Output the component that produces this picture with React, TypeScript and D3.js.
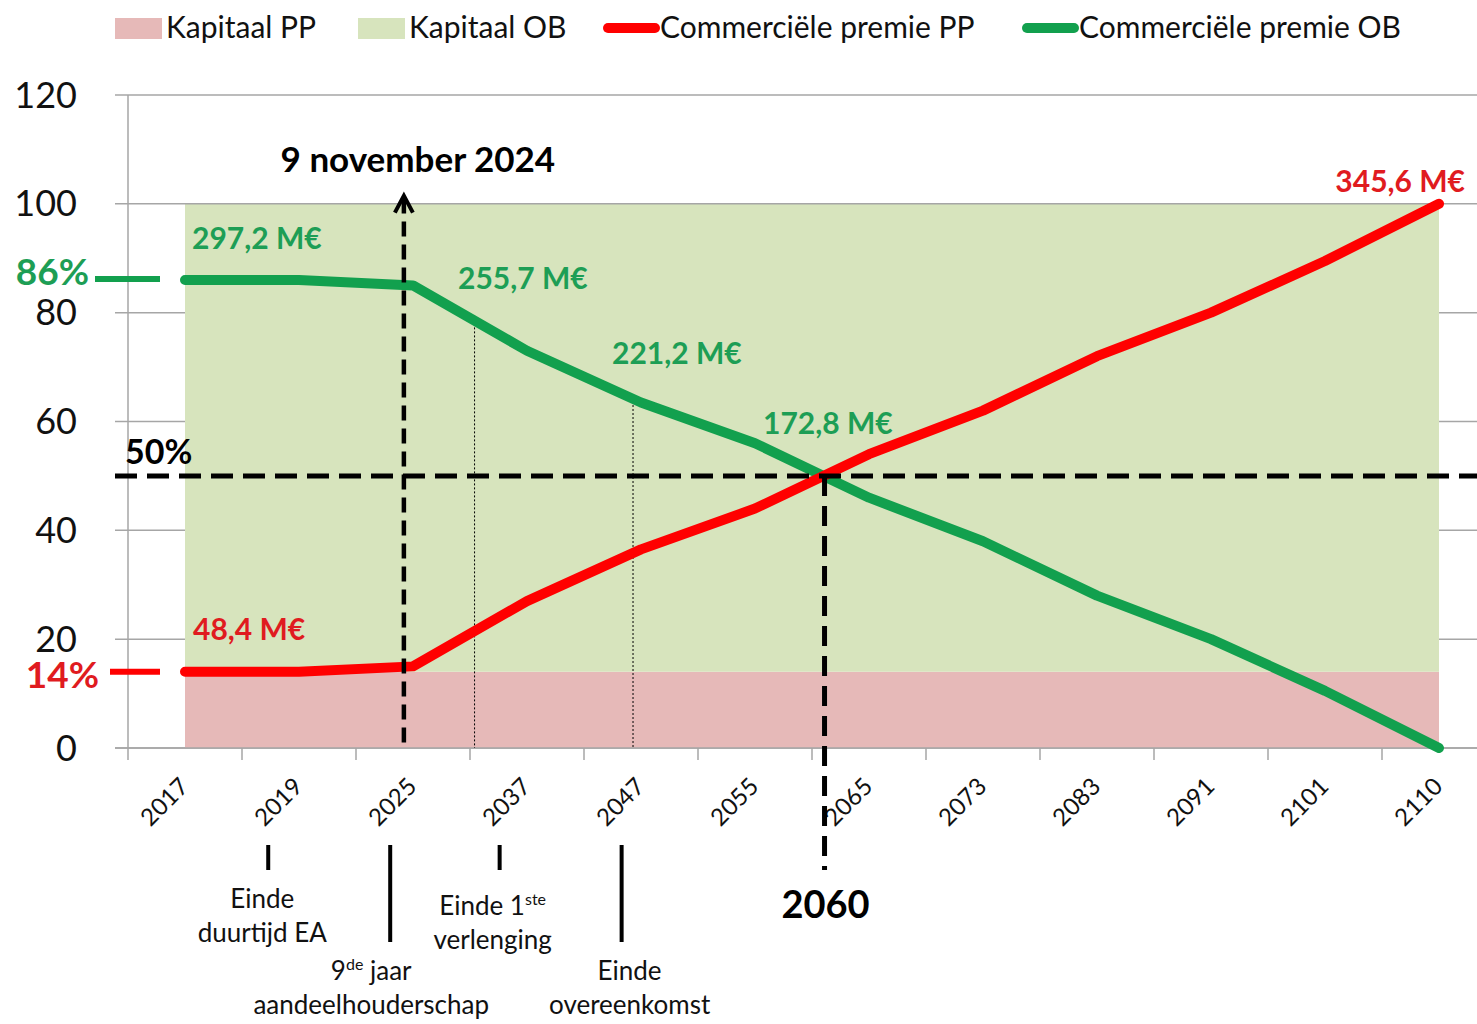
import React from "react";
import * as d3 from "d3";

// categories on the x axis
const years = ["2017", "2019", "2025", "2037", "2047", "2055", "2065", "2073", "2083", "2091", "2101", "2110"];

// stacked capital shares (%)
const kapitaalPP = [14, 14, 14, 14, 14, 14, 14, 14, 14, 14, 14, 14];
const kapitaalOB = [86, 86, 86, 86, 86, 86, 86, 86, 86, 86, 86, 86];

// commercial premium shares (%)
const premiePP = [14, 14, 15, 27, 36.5, 44, 54, 62, 72, 80, 89.5, 100];
const premieOB = [86, 86, 85, 73, 63.5, 56, 46, 38, 28, 20, 10.5, 0];

const yTicks = [0, 20, 40, 60, 80, 100, 120];

// value labels: [category index, text]
const obLabels: [number, string][] = [
  [0, "297,2 M€"],
  [3, "255,7 M€"],
  [4, "221,2 M€"],
  [5, "172,8 M€"],
];
const ppLabels: [number, string][] = [
  [0, "48,4 M€"],
  [11, "345,6 M€"],
];

// milestone markers below the axis (fractional category position)
const milestones = [
  { pos: 0.73, long: false, lines: ["Einde", "duurtijd EA"] },
  { pos: 1.8, long: true, lines: ["9|de| jaar", "aandeelhouderschap"] },
  { pos: 2.76, long: false, lines: ["Einde 1|ste|", "verlenging"] },
  { pos: 3.83, long: true, lines: ["Einde", "overeenkomst"] },
];

const GREEN = "#12a04e";
const GREEN_TXT = "#1d9e55";
const RED = "#ff0000";
const RED_TXT = "#e01b1f";
const FONT = "Lato, 'Open Sans', sans-serif";

const W = 1477;
const H = 1024;

function Sup({ text }: { text: string }) {
  const parts = text.split("|");
  return (
    <>
      {parts.map((p, i) =>
        i % 2 === 1 ? (
          <tspan key={i} fontSize={16} dy={-10}>{p}</tspan>
        ) : (
          <tspan key={i} dy={i > 0 ? 10 : 0}>{p}</tspan>
        )
      )}
    </>
  );
}

export default function App() {
  const x = d3.scaleLinear().domain([0, years.length - 1]).range([185, 1439]);
  const y = d3.scaleLinear().domain([0, 120]).range([748, 95]);
  const axisX = x(-0.5);

  const idx = d3.range(years.length);
  const stacked = d3.stack<number>()
    .keys(["pp", "ob"])
    .value((i, key) => (key === "pp" ? kapitaalPP[i] : kapitaalOB[i]))(idx);

  const area = d3.area<d3.SeriesPoint<number>>()
    .x((d) => x(d.data))
    .y0((d) => y(d[0]))
    .y1((d) => y(d[1]));

  const line = d3.line<number>().x((_, i) => x(i)).y((d) => y(d));

  const arrowX = x(1.92);
  const arrowTop = y(101.5);
  const crossX = x(5.61);
  const dot1 = 2.54;
  const dot2 = 3.93;

  const obOffset: Record<number, [number, number]> = { 0: [7, -31], 3: [-69, -62], 4: [-29, -38], 5: [8, -9] };
  const msOffset = (p: number) => (p < 1 ? -6 : p < 2 ? -19 : p < 3 ? -7 : 8);

  return (
    <div style={{ position: "absolute", left: 0, top: 0 }}>
      <svg width={W} height={H} style={{ display: "block", background: "#fff" }} fontFamily={FONT}>
        {/* legend */}
        <g fontSize={30} fill="#111">
          <rect x={115} y={18} width={47} height={21} fill="#e6b9b8" />
          <text x={166} y={38}>Kapitaal PP</text>
          <rect x={358} y={18} width={47} height={21} fill="#d7e4bd" />
          <text x={409} y={38}>Kapitaal OB</text>
          <line x1={608} x2={655} y1={28} y2={28} stroke={RED} strokeWidth={10} strokeLinecap="round" />
          <text x={660} y={38}>Commerciële premie PP</text>
          <line x1={1027} x2={1074} y1={28} y2={28} stroke={GREEN} strokeWidth={10} strokeLinecap="round" />
          <text x={1079} y={38}>Commerciële premie OB</text>
        </g>

        {/* gridlines */}
        {yTicks.map((t) => (
          <line key={t} x1={115} x2={W} y1={y(t)} y2={y(t)} stroke="#a6a6a6" strokeWidth={1.5} />
        ))}

        {/* stacked capital areas */}
        {stacked.map((s) => (
          <path key={s.key} d={area(s) || ""} fill={s.key === "pp" ? "#e6b9b8" : "#d7e4bd"} />
        ))}
        <line x1={x(0)} x2={x(years.length - 1)} y1={y(100)} y2={y(100)} stroke="#a6a6a6" strokeWidth={1.5} />

        {/* axes */}
        <line x1={axisX} x2={axisX} y1={y(120)} y2={y(0)} stroke="#a6a6a6" strokeWidth={1.5} />
        <line x1={115} x2={W} y1={y(0)} y2={y(0)} stroke="#a6a6a6" strokeWidth={1.5} />
        {d3.range(years.length + 1).map((i) => (
          <line key={i} x1={x(i - 0.5)} x2={x(i - 0.5)} y1={y(0)} y2={y(0) + 12} stroke="#a6a6a6" strokeWidth={1.5} />
        ))}
        {yTicks.map((t) => (
          <text key={t} x={77} y={y(t)} dy="0.35em" textAnchor="end" fontSize={36} fill="#111">{t}</text>
        ))}
        {years.map((yr, i) => (
          <text key={yr} transform={`translate(${x(i) + 5},${y(0) + 40}) rotate(-45)`} textAnchor="end" fontSize={24} fill="#111">{yr}</text>
        ))}

        {/* thin dotted guides */}
        <line x1={x(dot1)} x2={x(dot1)} y1={y(79.5)} y2={y(0)} stroke="#000" strokeWidth={1} strokeDasharray="2,2" />
        <line x1={x(dot2)} x2={x(dot2)} y1={y(64.5)} y2={y(0)} stroke="#000" strokeWidth={1} strokeDasharray="2,2" />

        {/* premium lines */}
        <path d={line(premieOB) || ""} fill="none" stroke={GREEN} strokeWidth={10} strokeLinecap="round" strokeLinejoin="round" />
        <path d={line(premiePP) || ""} fill="none" stroke={RED} strokeWidth={10} strokeLinecap="round" strokeLinejoin="round" />

        {/* 50% reference */}
        <line x1={115} x2={W} y1={y(50)} y2={y(50)} stroke="#000" strokeWidth={5} strokeDasharray="22,10" />
        <text x={125} y={y(50) - 12} fontSize={34} fontWeight={700} fill="#000">50%</text>

        {/* 9 november 2024 arrow */}
        <line x1={arrowX} x2={arrowX} y1={y(1)} y2={arrowTop + 4} stroke="#000" strokeWidth={4.5} strokeDasharray="15,8" />
        <path d={`M${arrowX - 9},${arrowTop + 17} L${arrowX},${arrowTop} L${arrowX + 9},${arrowTop + 17}`} fill="none" stroke="#000" strokeWidth={4} strokeLinejoin="miter" />
        <text x={arrowX + 14} y={172} textAnchor="middle" fontSize={35} fontWeight={700} fill="#000">9 november 2024</text>

        {/* 2060 crossing */}
        <line x1={crossX} x2={crossX} y1={y(50)} y2={870} stroke="#000" strokeWidth={5} strokeDasharray="20,10" />
        <text x={crossX + 1} y={918} textAnchor="middle" fontSize={38} fontWeight={700} fill="#000">2060</text>

        {/* start markers */}
        <text x={89} y={y(86) + 5} textAnchor="end" fontSize={37} fontWeight={700} fill={GREEN_TXT}>86%</text>
        <line x1={95} x2={160} y1={y(86) - 1} y2={y(86) - 1} stroke={GREEN} strokeWidth={6} />
        <text x={99} y={y(14) + 16} textAnchor="end" fontSize={37} fontWeight={700} fill={RED_TXT}>14%</text>
        <line x1={110} x2={160} y1={y(14)} y2={y(14)} stroke={RED} strokeWidth={6} />

        {/* value labels */}
        {obLabels.map(([i, t]) => (
          <text key={t} x={x(i) + obOffset[i][0]} y={y(premieOB[i]) + obOffset[i][1]} fontSize={30} fontWeight={700} fill={GREEN_TXT}>{t}</text>
        ))}
        {ppLabels.map(([i, t]) => (
          <text key={t} x={i === 0 ? x(i) + 8 : x(i) + 26} y={i === 0 ? y(premiePP[i]) - 32 : y(premiePP[i]) - 12} textAnchor={i === 0 ? "start" : "end"} fontSize={30} fontWeight={700} fill={RED_TXT}>{t}</text>
        ))}

        {/* milestones */}
        {milestones.map((m) => {
          const mx = x(m.pos);
          const bottom = m.long ? 942 : 870;
          const textTop = m.long ? 980 : m.lines[0].includes("|") ? 915 : 908;
          return (
            <g key={m.pos}>
              <line x1={mx} x2={mx} y1={845} y2={bottom} stroke="#000" strokeWidth={4} />
              {m.lines.map((l, j) => (
                <text key={j} x={mx + msOffset(m.pos)} y={textTop + j * 34} textAnchor="middle" fontSize={26} fill="#111">
                  <Sup text={l} />
                </text>
              ))}
            </g>
          );
        })}
      </svg>
    </div>
  );
}
